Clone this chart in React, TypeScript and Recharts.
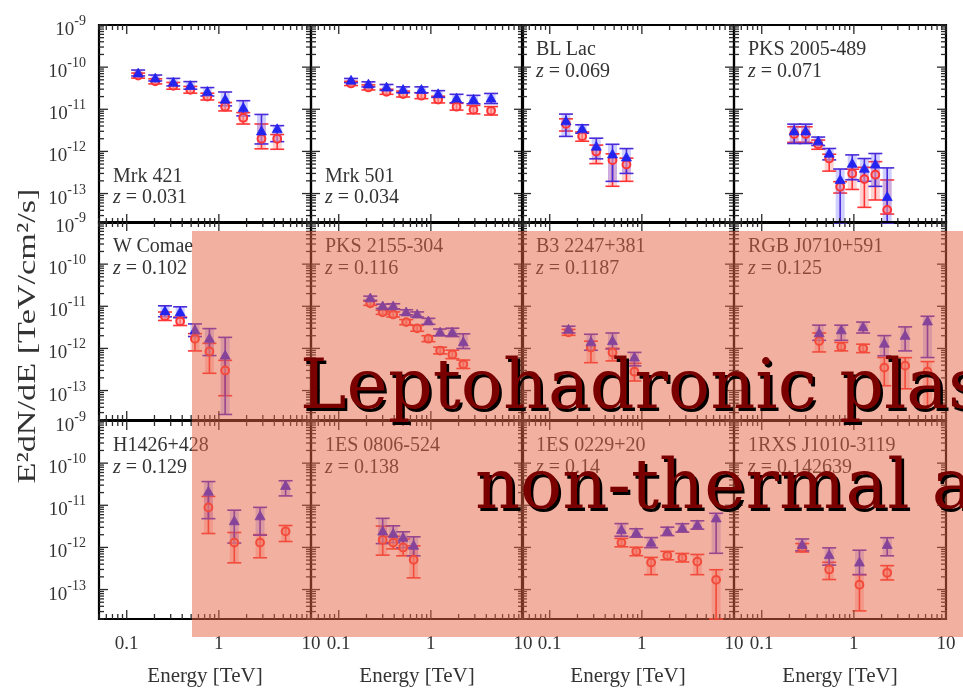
import { ScatterChart, Scatter, XAxis, YAxis, ErrorBar, ReferenceArea } from "recharts";

const SERIF = '"Liberation Serif", "Times New Roman", serif';
const BANNER_FONT = '"DejaVu Serif", serif';

// Energies in TeV, E^2 dN/dE in TeV/cm^2/s, errors as [below, above] in dex.
const mrk421E = [0.133, 0.204, 0.32, 0.49, 0.75, 1.17, 1.84, 2.9, 4.3];
const mrk421Tri = [7.1e-11, 5.4e-11, 4.3e-11, 3.6e-11, 2.6e-11, 1.7e-11, 1.08e-11, 3.0e-12, 3.4e-12];
const mrk421TriErr = [[0.06, 0.08], [0.06, 0.08], [0.08, 0.1], [0.08, 0.1], [0.1, 0.1], [0.15, 0.18], [0.19, 0.17], [0.3, 0.4], [0.3, 0.08]];
const mrk421Circ = [6.3e-11, 4.6e-11, 3.6e-11, 2.9e-11, 2.0e-11, 1.15e-11, 6.3e-12, 2.0e-12, 2.0e-12];
const mrk421CircErr = [[0.06, 0.06], [0.06, 0.06], [0.08, 0.08], [0.08, 0.08], [0.08, 0.08], [0.1, 0.1], [0.15, 0.12], [0.24, 0.35], [0.25, 0.1]];

const mrk501E = [0.136, 0.21, 0.33, 0.5, 0.79, 1.2, 1.9, 2.9, 4.5];
const mrk501Tri = [4.8e-11, 3.9e-11, 3.3e-11, 2.9e-11, 2.9e-11, 2.3e-11, 1.8e-11, 1.7e-11, 1.8e-11];
const mrk501TriErr = [[0.05, 0.05], [0.06, 0.06], [0.07, 0.07], [0.07, 0.07], [0.07, 0.07], [0.08, 0.08], [0.1, 0.1], [0.1, 0.1], [0.12, 0.12]];
const mrk501Circ = [4.1e-11, 3.3e-11, 2.6e-11, 2.3e-11, 2.1e-11, 1.7e-11, 1.15e-11, 9.8e-12, 9.2e-12];
const mrk501CircErr = [[0.05, 0.05], [0.06, 0.06], [0.06, 0.06], [0.07, 0.07], [0.07, 0.07], [0.08, 0.08], [0.08, 0.08], [0.1, 0.1], [0.1, 0.1]];

const blLacE = [0.15, 0.225, 0.32, 0.48, 0.68];
const blLacTri = [5.2e-12, 3.4e-12, 1.3e-12, 8.5e-13, 7.2e-13];
const blLacTriErr = [[0.36, 0.17], [0.1, 0.1], [0.29, 0.2], [0.64, 0.24], [0.38, 0.21]];
const blLacCirc = [4.5e-12, 2.3e-12, 1.0e-12, 6.2e-13, 4.9e-13];
const blLacCircErr = [[0.17, 0.12], [0.12, 0.1], [0.29, 0.15], [0.62, 0.15], [0.4, 0.15]];

const pks2005E = [0.225, 0.3, 0.41, 0.54, 0.71, 0.96, 1.3, 1.71, 2.3];
const pks2005Tri = [3.0e-12, 3.0e-12, 1.74e-12, 8.9e-13, 2.1e-13, 5.1e-13, 3.9e-13, 4.9e-13, 8.3e-14];
const pks2005TriErr = [[0.29, 0.17], [0.29, 0.17], [0.1, 0.1], [0.15, 0.12], [1.5, 0.26], [0.38, 0.21], [0.3, 0.24], [0.52, 0.26], [1.5, 0.69]];
const pks2005Circ = [2.6e-12, 2.6e-12, 1.48e-12, 6.8e-13, 1.45e-13, 3.0e-13, 2.2e-13, 2.8e-13, 4.1e-14];
const pks2005CircErr = [[0.2, 0.17], [0.2, 0.17], [0.12, 0.1], [0.3, 0.1], [0.15, 0.12], [0.38, 0.1], [0.67, 0.28], [0.6, 0.31], [0.1, 0.71]];

const wComaeE = [0.26, 0.38, 0.55, 0.79, 1.17];
const wComaeTri = [7.6e-12, 7.2e-12, 2.7e-12, 1.7e-12, 6.8e-13];
const wComaeTriErr = [[0.13, 0.13], [0.13, 0.13], [0.15, 0.15], [0.4, 0.24], [1.4, 0.43]];
const wComaeCirc = [5.8e-12, 4.4e-12, 1.7e-12, 8.5e-13, 3.0e-13];
const wComaeCircErr = [[0.1, 0.1], [0.1, 0.1], [0.29, 0.12], [0.52, 0.19], [0.6, 0.24]];

const pks2155E = [0.22, 0.3, 0.39, 0.54, 0.71, 0.94, 1.26, 1.71, 2.25];
const pks2155Tri = [1.55e-11, 1.0e-11, 1.0e-11, 7.2e-12, 6.4e-12, 4.4e-12, 2.4e-12, 2.4e-12, 1.4e-12];
const pks2155TriErr = [[0.05, 0.05], [0.05, 0.05], [0.06, 0.06], [0.06, 0.06], [0.06, 0.06], [0.07, 0.07], [0.08, 0.08], [0.1, 0.1], [0.15, 0.2]];
const pks2155Circ = [1.18e-11, 7.2e-12, 6.4e-12, 4.2e-12, 3.0e-12, 1.7e-12, 8.9e-13, 7.2e-13, 4.2e-13];
const pks2155CircErr = [[0.05, 0.05], [0.05, 0.05], [0.06, 0.06], [0.06, 0.06], [0.07, 0.07], [0.07, 0.07], [0.08, 0.08], [0.1, 0.1], [0.1, 0.1]];

const b3E = [0.16, 0.28, 0.48, 0.83];
const b3Tri = [2.8e-12, 1.4e-12, 1.5e-12, 6.1e-13];
const b3TriErr = [[0.08, 0.08], [0.19, 0.19], [0.19, 0.19], [0.2, 0.12]];
const b3Circ = [2.4e-12, 1.05e-12, 8.0e-13, 2.8e-13];
const b3CircErr = [[0.07, 0.07], [0.36, 0.15], [0.2, 0.1], [0.22, 0.2]];

const rgbE = [0.42, 0.73, 1.26, 2.14, 3.6, 6.3];
const rgbTri = [2.3e-12, 2.7e-12, 3.2e-12, 1.3e-12, 2.0e-12, 4.4e-12];
const rgbTriErr = [[0.17, 0.19], [0.24, 0.12], [0.14, 0.12], [0.29, 0.19], [0.36, 0.21], [0.86, 0.12]];
const rgbCirc = [1.5e-12, 1.1e-12, 1.0e-12, 3.5e-13, 3.9e-13, 2.8e-13];
const rgbCircErr = [[0.26, 0.19], [0.1, 0.1], [0.1, 0.1], [0.43, 0.24], [0.55, 0.19], [0.9, 0.24]];

const h1426E = [0.77, 1.47, 2.8, 5.3];
const h1426Tri = [2.1e-11, 4.2e-12, 5.5e-12, 2.9e-11];
const h1426TriErr = [[0.64, 0.24], [0.52, 0.26], [0.45, 0.21], [0.24, 0.12]];
const h1426Circ = [8.9e-12, 1.3e-12, 1.3e-12, 2.4e-12];
const h1426CircErr = [[0.62, 0.26], [0.48, 0.24], [0.36, 0.19], [0.24, 0.14]];

const es0806E = [0.3, 0.39, 0.5, 0.65];
const es0806Tri = [2.4e-12, 2.1e-12, 1.7e-12, 1.1e-12];
const es0806TriErr = [[0.29, 0.31], [0.21, 0.19], [0.24, 0.14], [0.24, 0.21]];
const es0806Circ = [1.5e-12, 1.3e-12, 1.0e-12, 5.1e-13];
const es0806CircErr = [[0.36, 0.33], [0.15, 0.15], [0.2, 0.2], [0.43, 0.33]];

const es0229E = [0.6, 0.87, 1.26, 1.89, 2.75, 4.0, 6.4];
const es0229Tri = [2.6e-12, 2.2e-12, 1.3e-12, 2.4e-12, 2.9e-12, 3.4e-12, 4.9e-12];
const es0229TriErr = [[0.15, 0.15], [0.1, 0.1], [0.12, 0.12], [0.1, 0.1], [0.1, 0.1], [0.1, 0.1], [0.83, 0.12]];
const es0229Circ = [1.3e-12, 8.0e-13, 4.4e-13, 6.4e-13, 5.7e-13, 4.6e-13, 1.7e-13];
const es0229CircErr = [[0.1, 0.1], [0.1, 0.1], [0.29, 0.12], [0.1, 0.1], [0.1, 0.1], [0.31, 0.17], [1.5, 0.24]];

const rxsE = [0.275, 0.54, 1.15, 2.3];
const rxsTri = [1.15e-12, 6.6e-13, 4.4e-13, 1.15e-12];
const rxsTriErr = [[0.14, 0.14], [0.24, 0.17], [0.29, 0.29], [0.26, 0.17]];
const rxsCirc = [9.8e-13, 3.0e-13, 1.3e-13, 2.5e-13];
const rxsCircErr = [[0.1, 0.1], [0.24, 0.17], [0.62, 0.24], [0.17, 0.17]];

const PANELS = [
  { name: "Mrk 421", z: "0.031", bottomLabel: true, e: mrk421E, tri: mrk421Tri, triErr: mrk421TriErr, circ: mrk421Circ, circErr: mrk421CircErr },
  { name: "Mrk 501", z: "0.034", bottomLabel: true, e: mrk501E, tri: mrk501Tri, triErr: mrk501TriErr, circ: mrk501Circ, circErr: mrk501CircErr },
  { name: "BL Lac", z: "0.069", e: blLacE, tri: blLacTri, triErr: blLacTriErr, circ: blLacCirc, circErr: blLacCircErr },
  { name: "PKS 2005-489", z: "0.071", e: pks2005E, tri: pks2005Tri, triErr: pks2005TriErr, circ: pks2005Circ, circErr: pks2005CircErr },
  { name: "W Comae", z: "0.102", e: wComaeE, tri: wComaeTri, triErr: wComaeTriErr, circ: wComaeCirc, circErr: wComaeCircErr },
  { name: "PKS 2155-304", z: "0.116", e: pks2155E, tri: pks2155Tri, triErr: pks2155TriErr, circ: pks2155Circ, circErr: pks2155CircErr },
  { name: "B3 2247+381", z: "0.1187", e: b3E, tri: b3Tri, triErr: b3TriErr, circ: b3Circ, circErr: b3CircErr },
  { name: "RGB J0710+591", z: "0.125", e: rgbE, tri: rgbTri, triErr: rgbTriErr, circ: rgbCirc, circErr: rgbCircErr },
  { name: "H1426+428", z: "0.129", e: h1426E, tri: h1426Tri, triErr: h1426TriErr, circ: h1426Circ, circErr: h1426CircErr },
  { name: "1ES 0806-524", z: "0.138", e: es0806E, tri: es0806Tri, triErr: es0806TriErr, circ: es0806Circ, circErr: es0806CircErr },
  { name: "1ES 0229+20", z: "0.14", e: es0229E, tri: es0229Tri, triErr: es0229TriErr, circ: es0229Circ, circErr: es0229CircErr },
  { name: "1RXS J1010-3119", z: "0.142639", e: rxsE, tri: rxsTri, triErr: rxsTriErr, circ: rxsCirc, circErr: rxsCircErr },
];

const X_DOMAIN = [0.05, 10];
const Y_DOMAIN = [2e-14, 1e-9];
const X_TICKS = [0.05, 0.06, 0.07, 0.08, 0.09, 0.1, 0.2, 0.3, 0.4, 0.5, 0.6, 0.7, 0.8, 0.9, 1, 2, 3, 4, 5, 6, 7, 8, 9, 10];
const X_MAJOR = [0.1, 1, 10];
const Y_DECADES = [-14, -13, -12, -11, -10];
const Y_TICKS = [
  ...Y_DECADES.flatMap((d) => [1, 2, 3, 4, 5, 6, 7, 8, 9].map((m) => Number(`${m}e${d}`))),
  1e-9,
].filter((v) => v >= Y_DOMAIN[0]);
const Y_MAJOR = [1e-13, 1e-12, 1e-11, 1e-10, 1e-9];

// grid geometry; the axes take 1px, the margins make up the rest
const COL_LEFT = [99, 311, 522, 734];
const ROW_TOP = [25, 222, 421];
const PLOT_W = 212;
const PLOT_H = 198;
const PAD = { top: 20, right: 20, bottom: 70, left: 100 };
const M = { top: PAD.top, right: PAD.right, bottom: PAD.bottom - 1, left: PAD.left - 1 };

const TRI_COLOR = "#2424f0";
const CIRC_COLOR = "#ff3434";
const TICK_COLOR = "#2a2a2a";

type Pt = { e: number; f: number; err: [number, number] };

// error bars that run off the bottom of a panel stop at its frame
function toPoints(e: number[], f: number[], dex: number[][]): Pt[] {
  return e.map((x, i) => {
    const v = f[i];
    const [lo, hi] = dex[i];
    const below = Math.min(v - v * Math.pow(10, -lo), v - Y_DOMAIN[0]);
    return { e: x, f: v, err: [below, v * Math.pow(10, hi) - v] };
  });
}

const triangle = (props: any) => {
  const { cx, cy } = props;
  return (
    <polygon
      points={`${cx},${cy - 5.2} ${cx - 5},${cy + 3.6} ${cx + 5},${cy + 3.6}`}
      fill={TRI_COLOR}
      stroke={TRI_COLOR}
      strokeWidth={0.8}
    />
  );
};

const ring = (props: any) => {
  const { cx, cy } = props;
  return <circle cx={cx} cy={cy} r={3.9} fill="rgba(255,160,160,0.6)" stroke={CIRC_COLOR} strokeWidth={2} />;
};

const xTick = (showLabel: boolean) => (props: any) => {
  const { x, y, payload } = props;
  const v = payload.value;
  const major = X_MAJOR.includes(v);
  const len = major ? 9 : 5;
  return (
    <g>
      <line x1={x} y1={y} x2={x} y2={y - len} stroke={TICK_COLOR} strokeWidth={1.3} />
      <line x1={x} y1={y - PLOT_H} x2={x} y2={y - PLOT_H + len} stroke={TICK_COLOR} strokeWidth={1.3} />
      {showLabel && major && (
        <text x={x} y={y + 30} textAnchor="middle" fontFamily={SERIF} fontSize={19} fill="#333">
          {String(v)}
        </text>
      )}
    </g>
  );
};

const yTick = (showLabel: boolean) => (props: any) => {
  const { x, y, payload } = props;
  const v = payload.value;
  const major = Y_MAJOR.includes(v);
  const len = major ? 9 : 5;
  const exp = Math.round(Math.log10(v));
  return (
    <g>
      <line x1={x} y1={y} x2={x + len} y2={y} stroke={TICK_COLOR} strokeWidth={1.3} />
      <line x1={x + PLOT_W} y1={y} x2={x + PLOT_W - len} y2={y} stroke={TICK_COLOR} strokeWidth={1.3} />
      {showLabel && major && (
        <text x={x - 13} y={y + 10} textAnchor="end" fontFamily={SERIF} fontSize={19} fill="#333">
          10
          <tspan dy={-10} fontSize={14}>
            {exp}
          </tspan>
        </text>
      )}
    </g>
  );
};

function Panel({ p, row, col }: { p: (typeof PANELS)[number]; row: number; col: number }) {
  const left = COL_LEFT[col];
  const top = ROW_TOP[row];
  const triPts = toPoints(p.e, p.tri, p.triErr);
  const circPts = toPoints(p.e, p.circ, p.circErr);
  const nameY = p.bottomLabel ? 157 : 30;
  const zY = p.bottomLabel ? 178 : 52;
  return (
    <>
      <div style={{ position: "absolute", left: left - PAD.left, top: top - PAD.top }}>
        <ScatterChart width={PAD.left + PLOT_W + PAD.right} height={PAD.top + PLOT_H + PAD.bottom} margin={M}>
          <XAxis
            type="number"
            dataKey="e"
            scale="log"
            domain={X_DOMAIN}
            allowDataOverflow
            ticks={X_TICKS}
            interval={0}
            tick={xTick(row === 2)}
            tickLine={false}
            axisLine={false}
            tickSize={0}
            tickMargin={0}
            height={1}
            label={
              row === 2
                ? { value: "Energy [TeV]", position: "bottom", offset: 47, fill: "#333", fontSize: 21, fontFamily: SERIF }
                : undefined
            }
          />
          <YAxis
            type="number"
            dataKey="f"
            scale="log"
            domain={Y_DOMAIN}
            allowDataOverflow
            ticks={Y_TICKS}
            interval={0}
            tick={yTick(col === 0)}
            tickLine={false}
            axisLine={false}
            tickSize={0}
            tickMargin={0}
            width={1}
          />
          <ReferenceArea
            x1={X_DOMAIN[0]}
            x2={X_DOMAIN[1]}
            y1={Y_DOMAIN[0]}
            y2={Y_DOMAIN[1]}
            fill="none"
            stroke="#000"
            strokeWidth={2.2}
            ifOverflow="visible"
          />
          <Scatter data={circPts} shape={ring} isAnimationActive={false}>
            <ErrorBar dataKey="err" direction="y" width={0} stroke="rgba(255,90,90,0.28)" strokeWidth={9} isAnimationActive={false} />
            <ErrorBar dataKey="err" direction="y" width={7} stroke={CIRC_COLOR} strokeWidth={1.6} isAnimationActive={false} />
          </Scatter>
          <Scatter data={triPts} shape={triangle} isAnimationActive={false}>
            <ErrorBar dataKey="err" direction="y" width={0} stroke="rgba(80,80,255,0.28)" strokeWidth={9} isAnimationActive={false} />
            <ErrorBar dataKey="err" direction="y" width={7} stroke="#4a2ad8" strokeWidth={1.6} isAnimationActive={false} />
          </Scatter>
        </ScatterChart>
      </div>
      <svg
        width={PLOT_W}
        height={PLOT_H}
        style={{ position: "absolute", left, top, overflow: "visible", pointerEvents: "none" }}
      >
        <text x={14} y={nameY} fontFamily={SERIF} fontSize={20} fill="#333">
          {p.name}
        </text>
        <text x={14} y={zY} fontFamily={SERIF} fontSize={20} fill="#333">
          <tspan fontStyle="italic">z</tspan> = {p.z}
        </text>
      </svg>
    </>
  );
}

export default function App() {
  return (
    <div style={{ position: "absolute", left: 0, top: 0, width: 963, height: 691, overflow: "hidden", background: "#fff" }}>
      <div style={{ position: "absolute", left: 0, top: 0, width: 963, height: 691, filter: "blur(0.45px)" }}>
        {PANELS.map((p, i) => (
          <Panel key={p.name} p={p} row={Math.floor(i / 4)} col={i % 4} />
        ))}
        <svg width={60} height={691} style={{ position: "absolute", left: 0, top: 0 }}>
          <text
            transform="translate(35,336) rotate(-90)"
            textAnchor="middle"
            fontFamily={SERIF}
            fontSize={26}
            fill="#333"
            textLength={295}
            lengthAdjust="spacingAndGlyphs"
          >
            E²dN/dE [TeV/cm²/s]
          </text>
        </svg>
      </div>
      <div
        style={{
          position: "absolute",
          left: 192,
          top: 231,
          width: 963 - 192,
          height: 637 - 231,
          background: "rgba(229,97,65,0.5)",
        }}
      />
      <svg width={963} height={691} style={{ position: "absolute", left: 0, top: 0, pointerEvents: "none" }}>
        <g fontFamily={BANNER_FONT} fontSize={70}>
          <text x={302.5} y={410.5} fill="#000">Leptohadronic plas</text>
          <text x={300} y={408} fill="#7a0000">Leptohadronic plas</text>
          <text x={477.5} y={510.5} fill="#000">non-thermal a</text>
          <text x={475} y={508} fill="#7a0000">non-thermal a</text>
        </g>
      </svg>
    </div>
  );
}
